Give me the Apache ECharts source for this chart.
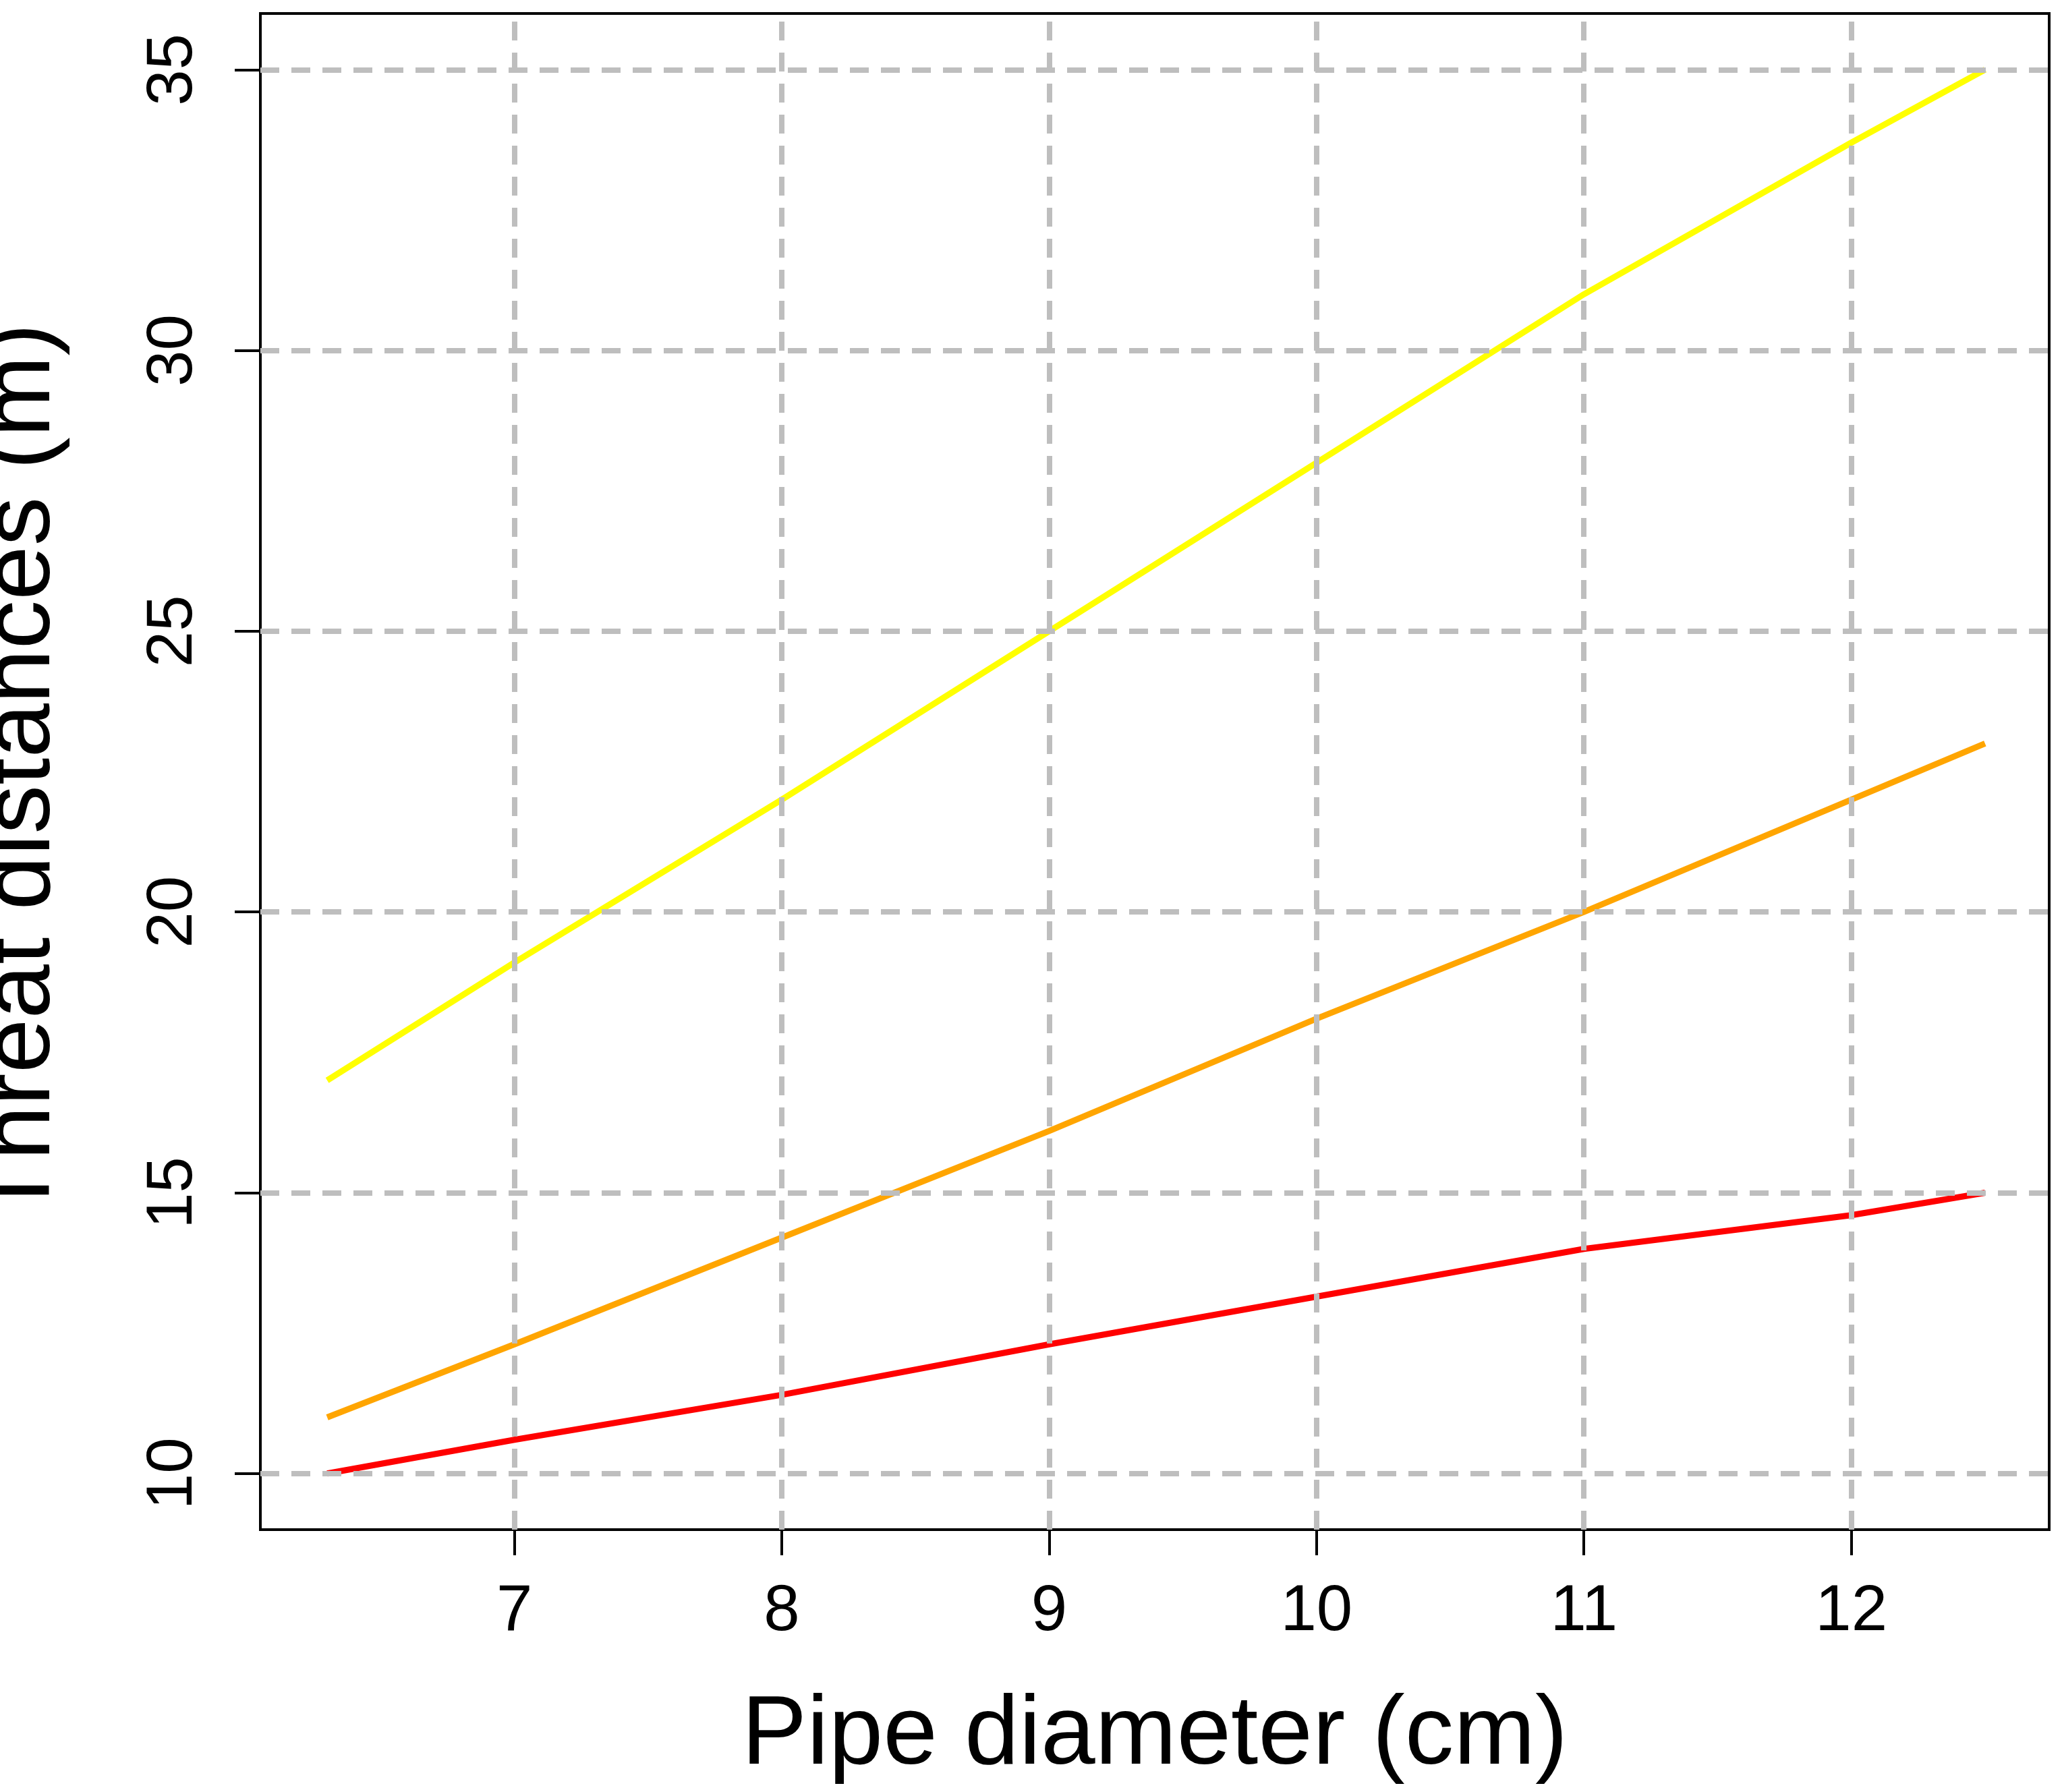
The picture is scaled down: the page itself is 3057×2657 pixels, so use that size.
<!DOCTYPE html>
<html>
<head>
<meta charset="utf-8">
<script src="https://cdn.jsdelivr.net/npm/echarts@6/dist/echarts.min.js"></script>
<style>html,body{margin:0;background:#fff}#chart{width:3057px;height:2657px}</style>
</head>
<body>
<div id="chart"></div>
<script>
const diameters = [6.3, 7, 8, 9, 10, 11, 12, 12.5]
const yellowVals = [17, 19.1, 22, 25, 28, 31, 33.7, 35]
const orangeVals = [11, 12.3, 14.2, 16.1, 18.1, 20, 22, 23]
const redVals = [10, 10.6, 11.4, 12.3, 13.15, 14, 14.6, 15]
const xTicks = [7, 8, 9, 10, 11, 12]
const yTicks = [10, 15, 20, 25, 30, 35]

const font = 'Liberation Sans, Arial, sans-serif'
const pairs = vals => diameters.map((d, i) => [d, vals[i]])
const dash = { color: '#bebebe', width: 8, type: [28, 18] }

let chart = echarts.init(document.getElementById('chart'))
chart.setOption({
  animation: false,
  grid: { left: 386, top: 20, width: 2652, height: 2248, show: true, borderColor: '#000', borderWidth: 4, containLabel: false, outerBoundsMode: 'none' },
  xAxis: {
    type: 'value', min: 6.05, max: 12.74,
    name: 'Pipe diameter (cm)', nameLocation: 'middle', nameGap: 235,
    nameTextStyle: { fontSize: 145, color: '#000', fontFamily: font },
    axisLine: { show: false },
    splitLine: { show: false },
    axisTick: { show: true, length: 38, lineStyle: { color: '#000', width: 4 }, customValues: xTicks },
    axisLabel: { fontSize: 96, color: '#000', fontFamily: font, margin: 75, customValues: xTicks }
  },
  yAxis: {
    type: 'value', min: 9, max: 36,
    name: 'Threat distances (m)', nameLocation: 'middle', nameGap: 280,
    nameTextStyle: { fontSize: 145, color: '#000', fontFamily: font },
    axisLine: { show: false },
    splitLine: { show: false },
    axisTick: { show: true, length: 38, lineStyle: { color: '#000', width: 4 }, customValues: yTicks },
    axisLabel: { fontSize: 96, color: '#000', fontFamily: font, margin: 80, rotate: 90, customValues: yTicks }
  },
  series: [
    {
      type: 'line', data: [], silent: true,
      markLine: {
        symbol: 'none', silent: true, label: { show: false }, lineStyle: dash,
        data: xTicks.map(v => ({ xAxis: v })).concat(yTicks.map(v => ({ yAxis: v })))
      }
    },
    { type: 'line', data: pairs(yellowVals), showSymbol: false, lineStyle: { color: '#ffff00', width: 9 } },
    { type: 'line', data: pairs(orangeVals), showSymbol: false, lineStyle: { color: '#ffa500', width: 9 } },
    { type: 'line', data: pairs(redVals), showSymbol: false, lineStyle: { color: '#ff0000', width: 9 } }
  ]
})
</script>
</body>
</html>
